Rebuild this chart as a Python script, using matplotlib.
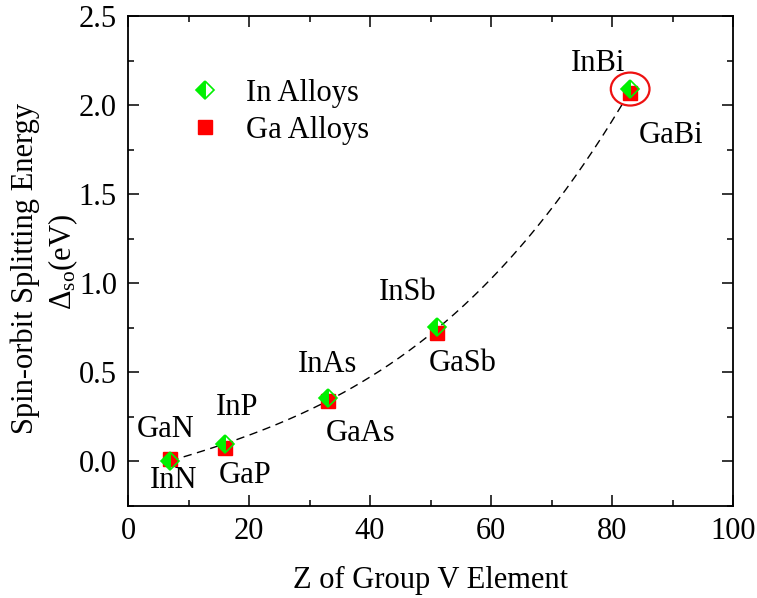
import numpy as np
import matplotlib
matplotlib.use("Agg")
import matplotlib.pyplot as plt
from matplotlib.patches import Ellipse
from matplotlib.ticker import MultipleLocator

plt.rcParams['font.family'] = ['Liberation Serif', 'DejaVu Serif']
plt.rcParams['mathtext.fontset'] = 'custom'
plt.rcParams['mathtext.rm'] = 'Liberation Serif'
plt.rcParams['mathtext.it'] = 'Liberation Serif:italic'

# Atomic number of the group V element and spin-orbit splitting (eV)
z_group_v = [7, 16, 33, 51, 83]
in_names = ["InN", "InP", "InAs", "InSb", "InBi"]
ga_names = ["GaN", "GaP", "GaAs", "GaSb", "GaBi"]
in_delta = [0.005, 0.10, 0.357, 0.755, 2.09]
ga_delta = [0.012, 0.077, 0.342, 0.72, 2.07]

x_ticks = [0, 20, 40, 60, 80, 100]
y_ticks = [0.0, 0.5, 1.0, 1.5, 2.0, 2.5]

FS = 22
GREEN = '#00f000'
RED = '#ff0000'

fig = plt.figure(figsize=(7.57, 5.98), dpi=100)
ax = fig.add_axes([128 / 757, 1 - 506 / 598, (733 - 128) / 757, (506 - 16) / 598])

# Smooth trend through both alloy families
zz = np.array(z_group_v * 2, dtype=float)
dd = np.array(in_delta + ga_delta)
coef = np.polyfit(zz, dd, 3)
xf = np.linspace(z_group_v[0], z_group_v[-1], 200)
ax.plot(xf, np.polyval(coef, xf), color='black', lw=1.0, ls=(0, (6, 4)), zorder=1)

ax.plot(z_group_v, ga_delta, ls='none', marker='s', ms=10, color=RED,
        mec=RED, label='Ga Alloys', zorder=2)
ax.plot(z_group_v, in_delta, ls='none', marker='D', ms=9, color=GREEN,
        mec=GREEN, mew=1.2, fillstyle='left', markerfacecoloralt='none',
        label='In Alloys', zorder=3)

# Highlight the bismide pair
ax.add_patch(Ellipse((z_group_v[-1], in_delta[-1]), 6.4, 0.185, fill=False,
                     ec='#ee1111', lw=1.6, zorder=4))

in_pos = [(7.5, -0.148), (18.1, 0.262), (33.0, 0.503), (46.3, 0.907), (77.7, 2.193)]
ga_pos = [(6.3, 0.139), (19.3, -0.12), (38.4, 0.112), (55.4, 0.505), (89.7, 1.786)]
for name, (x, y) in zip(in_names, in_pos):
    ax.text(x, y, name, fontsize=FS, ha='center', va='baseline')
for name, (x, y) in zip(ga_names, ga_pos):
    ax.text(x, y, name, fontsize=FS, ha='center', va='baseline')

ax.set_xlim(0, 100)
ax.set_ylim(-0.25, 2.5)
ax.set_xticks(x_ticks)
ax.set_yticks(y_ticks)
ax.xaxis.set_minor_locator(MultipleLocator(10))
ax.yaxis.set_minor_locator(MultipleLocator(0.25))
ax.set_xticklabels([str(v) for v in x_ticks])
ax.set_yticklabels([f"{v:.1f}" for v in y_ticks])
ax.tick_params(which='both', direction='in', top=True, right=True, labelsize=FS, width=1.1)
ax.tick_params(which='major', length=8, pad=8)
ax.tick_params(which='minor', length=4.5)
for sp in ax.spines.values():
    sp.set_linewidth(1.3)

ax.set_xlabel("Z of Group V Element", fontsize=FS, labelpad=14)
fig.text(25 / 757, 1 - 268 / 598, "Spin-orbit Splitting Energy", fontsize=FS,
         rotation=90, ha='center', va='center')
fig.text(63 / 757, 1 - 262 / 598, r"$\Delta_{\mathrm{so}}$(eV)", fontsize=FS,
         rotation=90, ha='center', va='center')

handles, labels = ax.get_legend_handles_labels()
ax.legend(handles[::-1], labels[::-1], loc='upper left', bbox_to_anchor=(0.067, 0.915),
          frameon=False, fontsize=FS, handletextpad=0.85, labelspacing=0.25,
          handlelength=1.0, borderpad=0.2)

fig.savefig("out.png", dpi=100)
